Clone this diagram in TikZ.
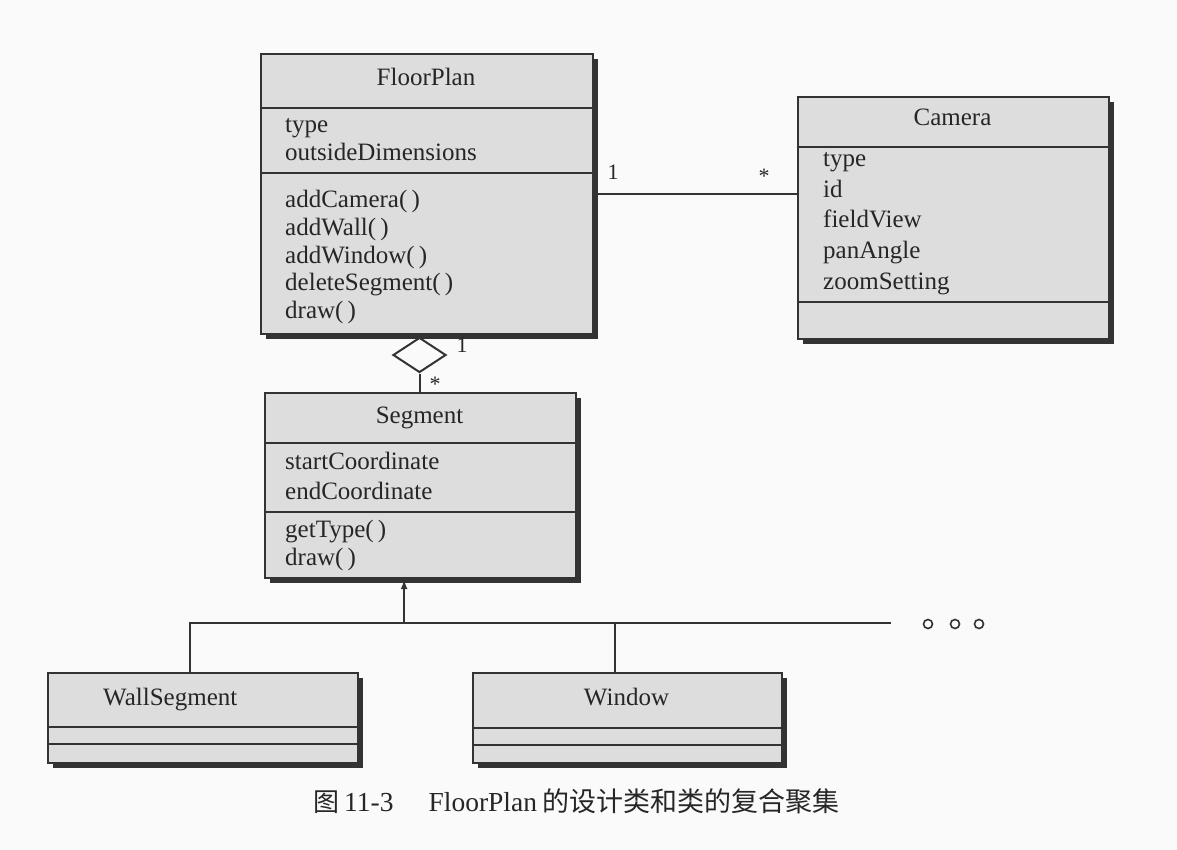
\documentclass[tikz,border=0pt]{standalone}
\usepackage{fontspec}
\setmainfont{Liberation Serif}
\newfontfamily\cjk{Noto Sans CJK SC}
\usetikzlibrary{shapes.geometric,shadows,arrows.meta}
\definecolor{boxfill}{HTML}{DDDDDD}
\definecolor{ink}{HTML}{333333}
\definecolor{textink}{HTML}{262626}
\definecolor{paper}{HTML}{FAFAFA}

\begin{document}
\begin{tikzpicture}[
            x=1pt, y=-1pt,
            class box/.style={draw=ink, line width=2.2pt, fill=boxfill, anchor=north west, inner sep=0pt,
                drop shadow={shadow xshift=5pt, shadow yshift=-5pt, fill=ink, opacity=1}},
            class name/.style={font=\fontsize{25}{30}\selectfont, text=textink, anchor=base, inner sep=0pt},
            member/.style={font=\fontsize{25}{30}\selectfont, text=textink, anchor=base west, inner sep=0pt},
            divider/.style={draw=ink, line width=2.2pt},
            link/.style={draw=ink, line width=2pt},
            mult/.style={font=\fontsize{22}{26}\selectfont, text=textink, inner sep=0pt},
        ]
            \fill[paper] (0,0) rectangle (1177,850);
            \useasboundingbox (0,0) rectangle (1177,850);

            % classes
            \node[class box, minimum width=332pt, minimum height=280pt] (floorplan) at (260,53) {};
            \node[class box, minimum width=311pt, minimum height=242pt] (camera) at (797,96) {};
            \node[class box, minimum width=311pt, minimum height=185pt] (segment) at (264,392) {};
            \node[class box, minimum width=310pt, minimum height=90pt] (wall) at (47,672) {};
            \node[class box, minimum width=309pt, minimum height=90pt] (window) at (472,672) {};

            \foreach \xa/\xb/\yy in {260/592/108, 260/592/173, 797/1108/147, 797/1108/302,
                    264/575/443, 264/575/512, 47/357/727, 47/357/744, 472/781/728, 472/781/745}
                \draw[divider] (\xa,\yy) -- (\xb,\yy);

            \node[class name] (floorplan name) at (426,86) {FloorPlan};
            \node[class name] (camera name) at (952.5,126) {Camera};
            \node[class name] (segment name) at (419.5,423) {Segment};
            \node[class name, anchor=base west] (wall name) at (103,705) {WallSegment};
            \node[class name] (window name) at (626.5,705) {Window};

            \foreach \txt [count=\i] in {type, outsideDimensions}
                \node[member] (floorplan attr\i) at (285,{133+28*(\i-1)}) {\txt};
            \foreach \txt [count=\i] in {addCamera(\,), addWall(\,), addWindow(\,), deleteSegment(\,), draw(\,)}
                \node[member] (floorplan op\i) at (285,{208+27.5*(\i-1)}) {\txt};
            \foreach \txt [count=\i] in {type, id, fieldView, panAngle, zoomSetting}
                \node[member] (camera attr\i) at (823,{167+30.5*(\i-1)}) {\txt};
            \foreach \txt [count=\i] in {startCoordinate, endCoordinate}
                \node[member] (segment attr\i) at (285,{469+30*(\i-1)}) {\txt};
            \foreach \txt [count=\i] in {getType(\,), draw(\,)}
                \node[member] (segment op\i) at (285,{537+28*(\i-1)}) {\txt};

            % association
            \draw[link] (floorplan.east) -- (floorplan.east -| camera.west);
            \node[mult] (fp one) at (613,172) {1};
            \node[mult] (cam many) at (764,176) {*};

            % aggregation
            \node[diamond, draw=ink, line width=2pt, fill=paper, inner sep=0pt,
                minimum width=53pt, minimum height=35pt] (agg) at (419.5,355) {};
            \draw[link] (agg.south) -- (agg.south |- segment.north);
            \node[mult] (agg one) at (462,345) {1};
            \node[mult] (agg many) at (435,384) {*};

            % generalization
            \coordinate (bus end) at (891,623);
            \draw[link] ([xshift=-13pt]wall.north) |- (bus end);
            \draw[link] ([xshift=-12.5pt]window.north) -- ([xshift=-12.5pt]window.north |- bus end);
            \draw[link, -{Latex[length=10pt,width=7pt]}] ([xshift=-16.5pt]segment.south |- bus end) -- ([xshift=-16.5pt]segment.south);
            \foreach \cx in {928,955,979}
                \draw[link, line width=1.6pt] (\cx,624) circle (4.5pt);

            \node[font=\fontsize{27.5}{33}\selectfont, text=textink, anchor=base west, inner sep=0pt] (caption) at (313,811)
                {{\cjk\fontsize{26}{33}\selectfont 图}\hspace{5pt}11-3\hspace{35pt}FloorPlan\hspace{5pt}{\cjk\fontsize{27}{33}\selectfont 的设计类和类的复合聚集}};
        \end{tikzpicture}
\end{document}
